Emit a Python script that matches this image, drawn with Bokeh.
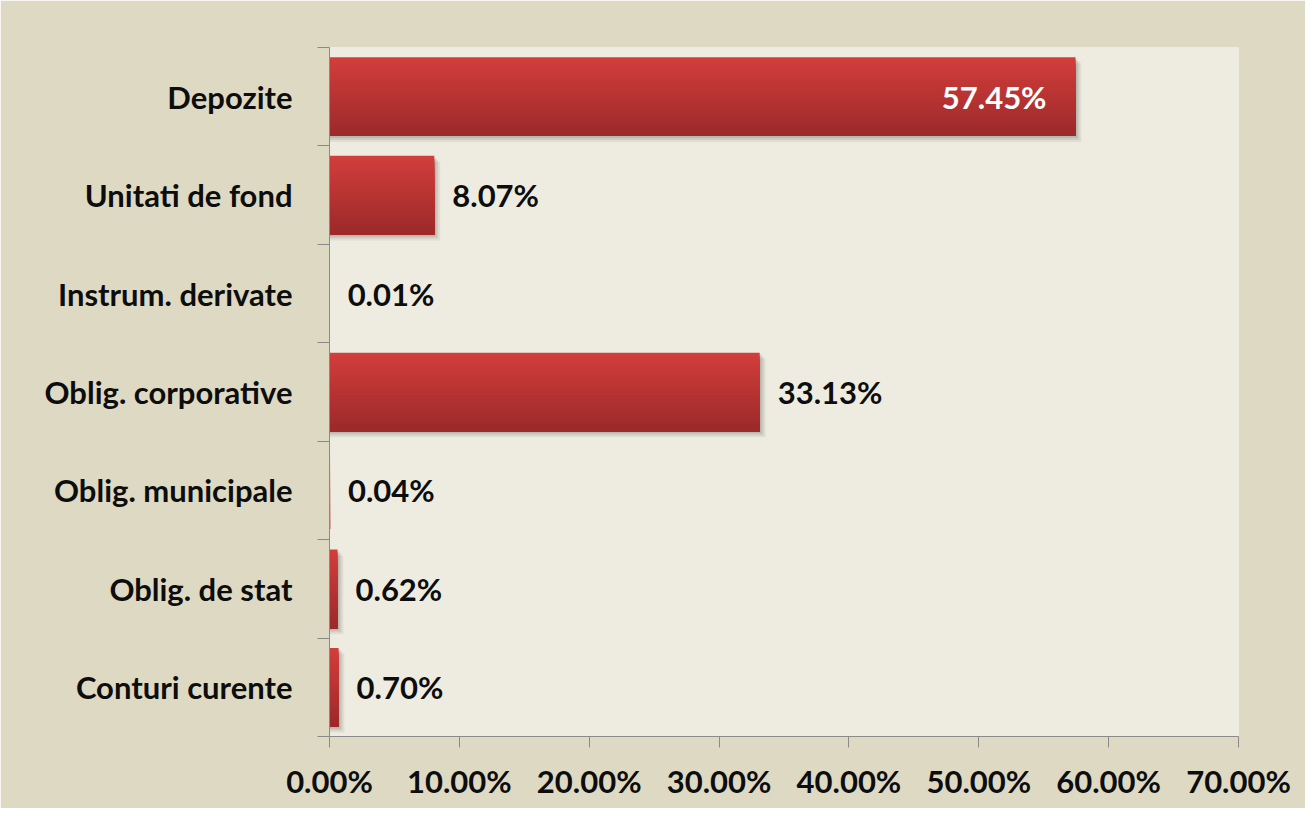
import numpy as np
from bokeh.plotting import figure
from bokeh.models import Range1d, FixedTicker, ColumnDataSource
from bokeh.core.properties import value
from bokeh.embed import file_html
from bokeh.resources import INLINE

# ---- data (top to bottom) ----
categories = ["Depozite", "Unitati de fond", "Instrum. derivate", "Oblig. corporative",
              "Oblig. municipale", "Oblig. de stat", "Conturi curente"]
values = [57.45, 8.07, 0.01, 33.13, 0.04, 0.62, 0.70]
value_labels = ["57.45%", "8.07%", "0.01%", "33.13%", "0.04%", "0.62%", "0.70%"]
x_ticks = [0, 10, 20, 30, 40, 50, 60, 70]
x_tick_labels = ["0.00%", "10.00%", "20.00%", "30.00%", "40.00%", "50.00%", "60.00%", "70.00%"]

FONT = "Lato"
FS = "31px"
n = len(categories)
centers = [n - i - 0.5 for i in range(n)]
bar_h = 0.8

p = figure(width=1305, height=808, output_backend="svg", toolbar_location=None,
           x_range=Range1d(0, 70), y_range=Range1d(0, n),
           min_border_left=329, min_border_right=67, min_border_top=47, min_border_bottom=72)
p.background_fill_color = "#eeece1"
p.border_fill_color = "#ddd9c3"
p.outline_line_color = None
p.xgrid.visible = False
p.ygrid.visible = False

# soft shadow (several layers), only for bars wide enough to show one
shadow_idx = [i for i, v in enumerate(values) if v >= 0.5]
for dx, dy, a in [(0.45, 0.06, 0.06), (0.3, 0.04, 0.08), (0.15, 0.02, 0.10)]:
    p.hbar(y=[centers[i] - dy for i in shadow_idx], left=0,
           right=[values[i] + dx for i in shadow_idx],
           height=bar_h, fill_color="#000000", fill_alpha=a, line_color=None)

# gradient bars built from overlapping stripes (each reaches the bar bottom)
N = 24
top_rgb = np.array([0xd2, 0x3e, 0x3c])
bot_rgb = np.array([0x9d, 0x2a, 0x2a])
tops, bottoms, rights, cols = [], [], [], []
sh = bar_h / N
for c, v in zip(centers, values):
    for k in range(N):
        t = k / (N - 1)
        rgb = (top_rgb * (1 - t) + bot_rgb * t).astype(int)
        tops.append(c + bar_h / 2 - k * sh)
        bottoms.append(c - bar_h / 2)
        rights.append(v)
        cols.append("#%02x%02x%02x" % tuple(rgb))
p.quad(left=0, right=rights, top=tops, bottom=bottoms, fill_color=cols, line_color=None)

# data labels
inside = [i for i, v in enumerate(values) if v > 50]
outside = [i for i, v in enumerate(values) if v <= 50]
src_out = ColumnDataSource(dict(x=[values[i] for i in outside], y=[centers[i] for i in outside],
                                t=[value_labels[i] for i in outside]))
p.text(x="x", y="y", text="t", source=src_out, x_offset=18, text_align="left",
       text_baseline="middle", text_font=value(FONT), text_font_style="bold",
       text_font_size=FS, text_color="#0d0d0d")
src_in = ColumnDataSource(dict(x=[values[i] for i in inside], y=[centers[i] for i in inside],
                               t=[value_labels[i] for i in inside]))
p.text(x="x", y="y", text="t", source=src_in, x_offset=-29, text_align="right",
       text_baseline="middle", text_font=value(FONT), text_font_style="bold",
       text_font_size=FS, text_color="#ffffff")

# x axis
xa = p.xaxis[0]
xa.ticker = FixedTicker(ticks=x_ticks)
xa.major_label_overrides = {t: l for t, l in zip(x_ticks, x_tick_labels)}
xa.axis_line_color = "#8a8a8a"
xa.major_tick_line_color = "#8a8a8a"
xa.major_tick_in = 0
xa.major_tick_out = 11
xa.minor_tick_line_color = None
xa.major_label_standoff = 14
xa.major_label_text_font = FONT
xa.major_label_text_font_style = "bold"
xa.major_label_text_font_size = FS
xa.major_label_text_color = "#0d0d0d"

# y axis: labels at centers, tick marks at category boundaries
ya = p.yaxis[0]
ya.ticker = FixedTicker(ticks=centers, minor_ticks=list(range(0, n + 1)))
ya.major_label_overrides = {c: cat for c, cat in zip(centers, categories)}
ya.axis_line_color = "#8a8a8a"
ya.major_tick_line_color = None
ya.major_tick_in = 0
ya.major_tick_out = 0
ya.minor_tick_line_color = "#8a8a8a"
ya.minor_tick_in = 0
ya.minor_tick_out = 12
ya.major_label_standoff = 25
ya.major_label_text_font = FONT
ya.major_label_text_font_style = "bold"
ya.major_label_text_font_size = FS
ya.major_label_text_color = "#0d0d0d"

open("out.html", "w").write(file_html(p, INLINE))
